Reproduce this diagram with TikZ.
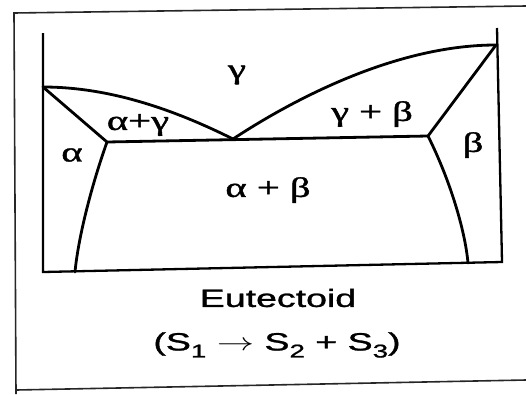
\documentclass[tikz,border=0pt]{standalone}
\usepackage{fontspec}
\usepackage{graphicx}
\setmainfont{Liberation Serif}
\setsansfont{Liberation Sans}
\newfontfamily\grkfont[FakeBold=1.2]{Liberation Serif}
\newfontfamily\lblsans[FakeBold=1.0]{Liberation Sans}
\newcommand{\grk}[1]{\scalebox{1.45}[1]{\grkfont\fontsize{28}{30}\selectfont #1}}
\newcommand{\sfx}[1]{\scalebox{1.5}[1]{\lblsans\fontsize{25}{28}\selectfont #1}}
\newcommand{\subd}[1]{\raisebox{-7pt}{\fontsize{18.5}{20}\selectfont #1}}
\tikzset{
  phase/.style={line width=2.8pt, line join=round, line cap=round},
  axis/.style={line width=2.3pt},
  frame/.style={line width=1.6pt, draw=black!85},
  lbl/.style={inner sep=0pt, anchor=center}
}
\begin{document}
\begin{tikzpicture}[x=1pt,y=-1pt]
\fill[white] (0,0) rectangle (526,394);
\useasboundingbox (0,0) rectangle (526,394);
% outer frame
\draw[frame] (526,6) -- (14,13) -- (16,394);
\draw[frame] (16,390) -- (526,380);
% axes
\coordinate (TL) at (43,33);
\coordinate (BL) at (43,272);
\coordinate (BR) at (502,262);
\coordinate (TR) at (497,28);
\draw[axis] (TL) -- (BL) -- (BR) -- (TR);
% phase points
\coordinate (A) at (43,87);
\coordinate (E) at (233,139);
\coordinate (B) at (496,45);
\coordinate (P) at (107,142);
\coordinate (Q) at (428,136);
\coordinate (Pb) at (75,272);
\coordinate (Qb) at (468,263);
\draw[phase] (A) .. controls (110,87) and (175,110) .. (E);
\draw[phase] (E) .. controls (300,95) and (400,45) .. (B);
\draw[phase] (A) -- (P) -- (Q) -- (B);
\draw[phase] (P) .. controls (90,190) and (78,240) .. (Pb);
\draw[phase] (Q) .. controls (450,180) and (465,230) .. (Qb);
% labels
\node[lbl] (g) at (237,75) {\grk{γ}};
\node[lbl] (ag) at (138,125) {\grk{α+γ}};
\node[lbl] (gb) at (372,114) {\grk{γ + β}};
\node[lbl] (a) at (72,155) {\grk{α}};
\node[lbl] (b) at (473,145) {\grk{β}};
\node[lbl] (ab) at (268,190) {\grk{α + β}};
\node[lbl] (eut) at (278,298) {\sfx{Eutectoid}};
\node[lbl] (rx) at (277,345) {\sfx{(S\subd{1} $\rightarrow$ S\subd{2} + S\subd{3})}};
\end{tikzpicture}
\end{document}
